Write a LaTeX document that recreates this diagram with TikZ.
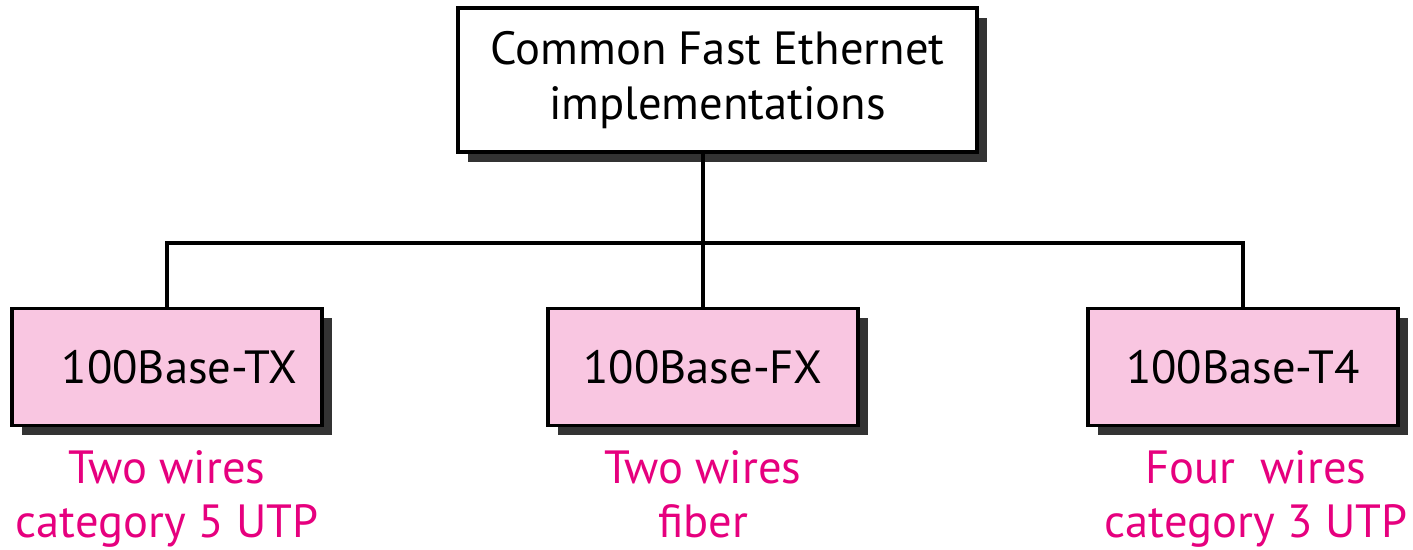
\documentclass[tikz,border=0pt]{standalone}
\usepackage{fontspec}
\setmainfont{PT Sans}
\usetikzlibrary{positioning, shadows}
\definecolor{boxpink}{HTML}{F9C6E1}
\definecolor{notepink}{HTML}{E6007E}

\begin{document}
\begin{tikzpicture}[-,line width=2.1pt,node distance=0.42cm,
    shadowed/.style={draw,rectangle,drop shadow={shadow xshift=0.2cm,shadow yshift=-0.2cm,fill=black!80,opacity=1}},
    top node/.style={shadowed,fill=white,minimum width=10.38cm,minimum height=2.88cm,align=center,font=\fontsize{26.5}{31.5}\selectfont},
    type node/.style={shadowed,fill=boxpink,minimum width=6.2cm,minimum height=2.34cm,font=\fontsize{26.5}{31.5}\selectfont},
    note/.style={text=notepink,align=center,inner sep=0pt,font=\fontsize{26.5}{31}\selectfont}]

  \useasboundingbox (0,0) rectangle (28.26,11);

  \node[top node] (top) at (14.35,9.4) {Common Fast Ethernet\\implementations};
  \node[type node] (tx) at (3.34,3.66) {\hspace*{0.5cm}100Base-TX};
  \node[type node] (fx) at (14.06,3.66) {100Base-FX};
  \node[type node] (t4) at (24.86,3.66) {100Base-T4};

  \node[note] (txnote) [below=of tx] {Two wires\\category 5 UTP};
  \node[note] (fxnote) [below=of fx] {Two wires\\fiber};
  \node[note] (t4note) [below=of t4, xshift=0.26cm] {Four\ \ wires\\category 3 UTP};

  \coordinate (bar) at (14.06,6.14);
  \draw (top.south -| fx.north) -- (fx.north);
  \draw (tx.north) |- (bar) -| (t4.north);

\end{tikzpicture}
\end{document}
